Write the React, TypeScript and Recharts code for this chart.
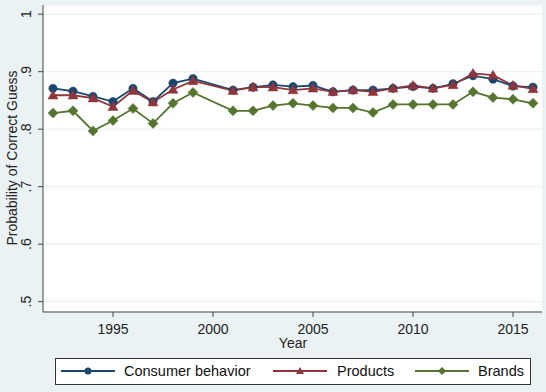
import React from "react";
import { LineChart, Line, XAxis, YAxis, CartesianGrid } from "recharts";

const years = [1992, 1993, 1994, 1995, 1996, 1997, 1998, 1999, 2001, 2002, 2003, 2004, 2005, 2006, 2007, 2008, 2009, 2010, 2011, 2012, 2013, 2014, 2015, 2016];
const consumerBehavior = [0.871, 0.866, 0.857, 0.848, 0.871, 0.848, 0.880, 0.888, 0.868, 0.873, 0.877, 0.874, 0.876, 0.865, 0.868, 0.868, 0.871, 0.874, 0.871, 0.879, 0.893, 0.887, 0.875, 0.873];
const products = [0.859, 0.859, 0.854, 0.839, 0.867, 0.847, 0.869, 0.884, 0.867, 0.873, 0.873, 0.868, 0.871, 0.865, 0.868, 0.865, 0.871, 0.876, 0.871, 0.877, 0.897, 0.894, 0.876, 0.870];
const brands = [0.828, 0.832, 0.797, 0.815, 0.836, 0.810, 0.845, 0.864, 0.832, 0.832, 0.841, 0.845, 0.841, 0.837, 0.837, 0.829, 0.843, 0.843, 0.843, 0.843, 0.865, 0.855, 0.852, 0.845];
const xTicks = [1995, 2000, 2005, 2010, 2015];
const yTicks = [0.5, 0.6, 0.7, 0.8, 0.9, 1];
const yTickLabels = [".5", ".6", ".7", ".8", ".9", "1"];
const seriesNames = ["Consumer behavior", "Products", "Brands"];

const data = years.map((y, i) => ({
  year: y,
  consumer: consumerBehavior[i],
  products: products[i],
  brands: brands[i],
}));

const NAVY = "#1a476f";
const MAROON = "#90353b";
const GREEN = "#55752f";
const BG = "#eaf2f3";
const FONT = "'Liberation Sans', Arial, Helvetica, sans-serif";

const CircleDot = (props: any) => {
  const { cx, cy } = props;
  if (cx == null || cy == null) return null;
  return <circle key={props.index} cx={cx} cy={cy} r={4.2} fill={NAVY} stroke={NAVY} strokeWidth={0.5} />;
};
const TriDot = (props: any) => {
  const { cx, cy } = props;
  if (cx == null || cy == null) return null;
  const s = 5;
  return (
    <polygon
      key={props.index}
      points={`${cx},${cy - s} ${cx + s},${cy + s * 0.75} ${cx - s},${cy + s * 0.75}`}
      fill={MAROON}
      stroke={MAROON}
      strokeWidth={0.5}
    />
  );
};
const DiaDot = (props: any) => {
  const { cx, cy } = props;
  if (cx == null || cy == null) return null;
  const s = 5;
  return (
    <polygon
      key={props.index}
      points={`${cx},${cy - s} ${cx + s},${cy} ${cx},${cy + s} ${cx - s},${cy}`}
      fill={GREEN}
      stroke={GREEN}
      strokeWidth={0.5}
    />
  );
};

const YTick = (props: any) => {
  const { x, y, payload } = props;
  const idx = yTicks.indexOf(payload.value);
  const label = idx >= 0 ? yTickLabels[idx] : String(payload.value);
  return (
    <text
      x={x - 5}
      y={y}
      transform={`rotate(-90, ${x - 5}, ${y})`}
      textAnchor="middle"
      fontSize={14}
      fill="#222"
      fontFamily={FONT}
    >
      {label}
    </text>
  );
};

const XTick = (props: any) => {
  const { x, y, payload } = props;
  return (
    <text x={x} y={y + 15} textAnchor="middle" fontSize={14} fill="#222" fontFamily={FONT}>
      {payload.value}
    </text>
  );
};

const LegendItem = ({ color, kind, label, lineX, textX }: any) => {
  return (
    <g>
      <line x1={lineX} y1={13} x2={lineX + 54} y2={13} stroke={color} strokeWidth={1.8} />
      {kind === "circle" && <circle cx={lineX + 27} cy={13} r={3.5} fill={color} />}
      {kind === "tri" && (
        <polygon points={`${lineX + 27},${9} ${lineX + 31},${16} ${lineX + 23},${16}`} fill={color} />
      )}
      {kind === "dia" && (
        <polygon points={`${lineX + 27},${9} ${lineX + 31},${13} ${lineX + 27},${17} ${lineX + 23},${13}`} fill={color} />
      )}
      <text x={textX} y={18} fontSize={14.5} fill="#111" fontFamily={FONT}>
        {label}
      </text>
    </g>
  );
};

export default function App() {
  return (
    <div style={{ position: "absolute", left: 0, top: 0, width: 546, height: 392, background: BG, overflow: "hidden" }}>
      <LineChart
        width={546}
        height={392}
        data={data}
        margin={{ top: 5, right: 4, left: 0, bottom: 0 }}
      >
        <CartesianGrid fill="#ffffff" stroke={BG} strokeWidth={1.2} vertical={false} />
        <XAxis
          dataKey="year"
          type="number"
          domain={[1991.5, 2016.45]}
          ticks={xTicks}
          allowDataOverflow
          height={80}
          stroke="#444"
          tickLine={{ stroke: "#444" }}
          tickSize={5}
          tick={<XTick />}
        />
        <YAxis
          type="number"
          domain={[0.482, 1.016]}
          ticks={yTicks}
          allowDataOverflow
          width={43}
          stroke="#444"
          tickLine={{ stroke: "#444" }}
          tickSize={5}
          tick={<YTick />}
        />
        <Line
          type="linear"
          dataKey="consumer"
          stroke={NAVY}
          strokeWidth={1.8}
          dot={<CircleDot />}
          isAnimationActive={false}
        />
        <Line
          type="linear"
          dataKey="products"
          stroke={MAROON}
          strokeWidth={1.8}
          dot={<TriDot />}
          isAnimationActive={false}
        />
        <Line
          type="linear"
          dataKey="brands"
          stroke={GREEN}
          strokeWidth={1.8}
          dot={<DiaDot />}
          isAnimationActive={false}
        />
      </LineChart>
      <svg style={{ position: "absolute", left: 0, top: 0 }} width={30} height={330}>
        <text
          x={17}
          y={158}
          transform="rotate(-90, 17, 158)"
          textAnchor="middle"
          fontSize={14}
          fill="#222"
          fontFamily={FONT}
        >
          Probability of Correct Guess
        </text>
      </svg>
      <svg style={{ position: "absolute", left: 250, top: 334 }} width={90} height={20}>
        <text x={43} y={14} textAnchor="middle" fontSize={14} fill="#222" fontFamily={FONT}>
          Year
        </text>
      </svg>
      <svg style={{ position: "absolute", left: 55, top: 358 }} width={476} height={27}>
        <rect x={0.5} y={0.5} width={475} height={26} fill="#ffffff" stroke="#333" strokeWidth={1} />
        <LegendItem color={NAVY} kind="circle" label={seriesNames[0]} lineX={6} textX={69} />
        <LegendItem color={MAROON} kind="tri" label={seriesNames[1]} lineX={218} textX={282} />
        <LegendItem color={GREEN} kind="dia" label={seriesNames[2]} lineX={360} textX={423} />
      </svg>
    </div>
  );
}
